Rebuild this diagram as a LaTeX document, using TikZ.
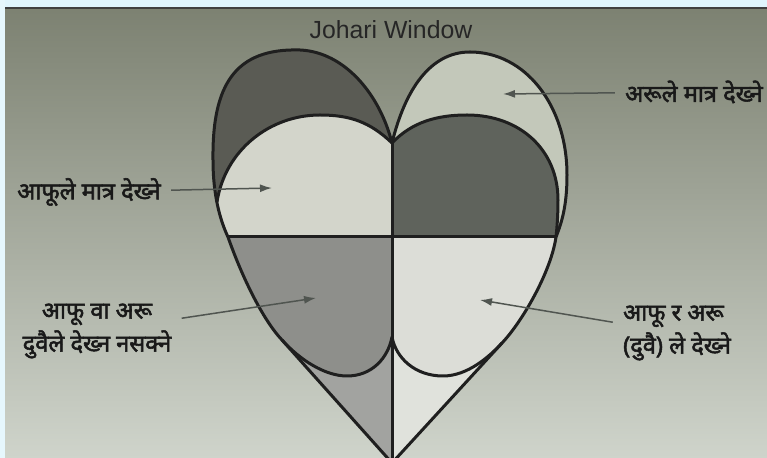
\documentclass[tikz,border=0pt]{standalone}
\usepackage{fontspec}
\setmainfont{Liberation Sans}
\newfontfamily\nepfont[Script=Devanagari,FakeBold=2.2]{Noto Sans}
\usetikzlibrary{arrows.meta,positioning}
\definecolor{bgtop}{HTML}{7B8070}
\definecolor{bgmid}{HTML}{B6BBAE}
\definecolor{bgbot}{HTML}{CFD4CB}
\definecolor{lobedark}{HTML}{5A5B54}
\definecolor{archdark}{HTML}{5F635C}
\definecolor{archpale}{HTML}{D3D5CB}
\definecolor{lobepale}{HTML}{C3C8BA}
\definecolor{hiddengrey}{HTML}{8E8F8B}
\definecolor{hiddentip}{HTML}{A2A3A0}
\definecolor{openpale}{HTML}{DCDDD7}
\definecolor{opentip}{HTML}{E0E2DC}
\definecolor{pointergrey}{HTML}{505550}
\tikzset{
  outline/.style={line width=1.5pt,draw=black!88,line join=round},
  pointer/.style={-{Latex[length=6pt,width=4pt]},line width=0.75pt,draw=pointergrey},
  nepali/.style={font=\nepfont\fontsize{11.8}{16.5}\selectfont,text=black!90,inner sep=5pt}
}
\begin{document}
\begin{tikzpicture}[x=0.5pt,y=-0.5pt]
\useasboundingbox (0,0) rectangle (767,458);
\shade[top color=bgtop,middle color=bgmid,bottom color=bgbot] (0,0) rectangle (767,458);
\fill[white!88!cyan] (0,0) rectangle (767,7);
\fill[white!90!cyan] (0,0) rectangle (5,458);
\draw[black!75,line width=0.8pt] (5,8)--(767,8);

\fill[lobedark] (392,143) .. controls (380,95) and (345,52) .. (300,50)
  .. controls (235,48) and (212,85) .. (213,160)
  .. controls (213,195) and (220,220) .. (228,237) -- (392,237) -- cycle;
\fill[archpale] (392,143) .. controls (370,122) and (350,115) .. (320,115)
  .. controls (270,115) and (225,150) .. (217,202) -- (228,237) -- (392,237) -- cycle;
\fill[lobepale] (392,143) .. controls (405,90) and (430,52) .. (470,52)
  .. controls (525,52) and (567,105) .. (567,175)
  .. controls (567,205) and (562,222) .. (556,237) -- (392,237) -- cycle;
\fill[archdark] (392,143) .. controls (412,122) and (437,115) .. (467,115)
  .. controls (520,115) and (558,150) .. (558,200)
  .. controls (558,215) and (557,228) .. (556,237) -- (392,237) -- cycle;
\fill[hiddengrey] (228,237) .. controls (242,277) and (263,320) .. (282,340)
  -- (392,463) -- (392,237) -- cycle;
\fill[hiddentip] (282,340) .. controls (300,360) and (325,376) .. (347,376)
  .. controls (372,376) and (388,358) .. (392,337) -- (392,463) -- cycle;
\fill[openpale] (556,237) .. controls (551,272) and (522,322) .. (502,343)
  -- (392,463) -- (392,237) -- cycle;
\fill[opentip] (502,343) .. controls (490,356) and (468,376) .. (443,376)
  .. controls (415,376) and (396,358) .. (392,337) -- (392,463) -- cycle;

\draw[outline] (392,143) .. controls (380,95) and (345,52) .. (300,50)
  .. controls (235,48) and (212,85) .. (213,160)
  .. controls (213,195) and (220,220) .. (228,237)
  .. controls (242,277) and (263,320) .. (282,340) -- (392,463) -- (502,343)
  .. controls (522,322) and (551,272) .. (556,237)
  .. controls (562,222) and (567,205) .. (567,175)
  .. controls (567,105) and (525,52) .. (470,52)
  .. controls (430,52) and (405,90) .. (392,143);
\draw[outline] (392,143) .. controls (370,122) and (350,115) .. (320,115)
  .. controls (270,115) and (225,150) .. (217,202);
\draw[outline] (392,143) .. controls (412,122) and (437,115) .. (467,115)
  .. controls (520,115) and (558,150) .. (558,200)
  .. controls (558,215) and (557,228) .. (556,237);
\draw[outline] (282,340) .. controls (300,360) and (325,376) .. (347,376)
  .. controls (372,376) and (388,358) .. (392,337)
  .. controls (396,358) and (415,376) .. (443,376)
  .. controls (468,376) and (490,356) .. (502,343);
\draw[outline] (228,237) -- (556,237);
\draw[outline] (392,143) -- (392,463);

\node[font=\fontsize{12.4}{14}\selectfont,text=black!85] (title) at (391,30) {Johari Window};

\node[nepali] (othersonly) at (694,92) {अरूले मात्र देख्ने};
\node[nepali] (selfonly) at (89,192) {आफूले मात्र देख्ने};
\node[nepali,align=center] (neither) at (97,331) {आफू वा अरू\\दुवैले देख्न नसक्ने};
\node[nepali,align=left] (both) at (677,333) {आफू र अरू\\(दुवै) ले देख्ने};

\coordinate (othersonlytip) at (503,94);
\coordinate (selfonlytip) at (272,188);
\coordinate (neithertip) at (316,298);
\coordinate (bothtip) at (480,300);

\draw[pointer] (othersonly) -- (othersonlytip);
\draw[pointer] (selfonly) -- (selfonlytip);
\draw[pointer] (neither) -- (neithertip);
\draw[pointer] (both) -- (bothtip);
\end{tikzpicture}
\end{document}
